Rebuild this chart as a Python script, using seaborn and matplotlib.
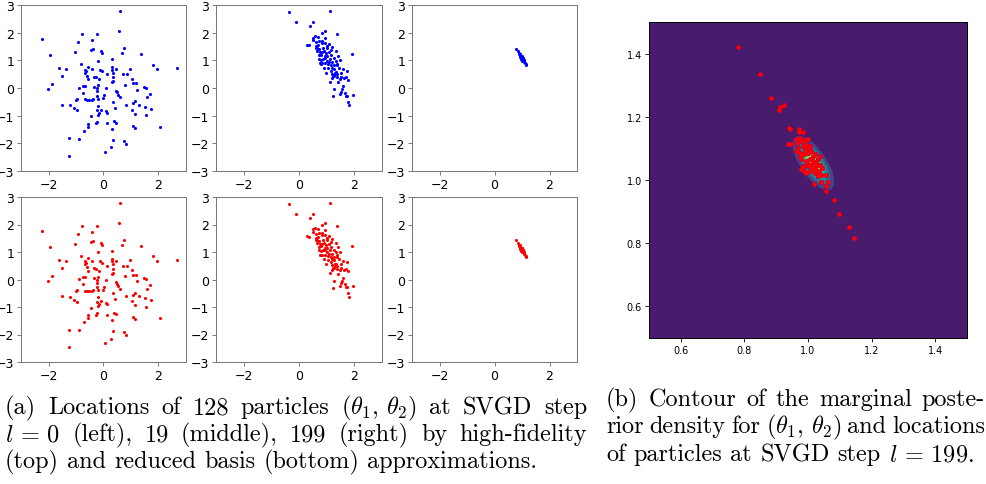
import numpy as np
import pandas as pd
import seaborn as sns
import matplotlib.pyplot as plt

plt.rcParams['mathtext.fontset'] = 'cm'

# particles at SVGD step l = 0 (same initial particles for both models)
x_l0 = [-2.25, 0.61, 0.58, -0.78, -0.22, -0.92, -0.41, -1.93, -1.03, -0.45, -0.39, -0.09, -0.06, 0.75,
        0.69, 1.35, 0.32, -0.19, -0.81, -1.62, -1.35, -0.55, -0.67, -0.63, -0.69, -0.41, -0.12, -0.05,
        0.30, 0.46, 0.30, 0.34, 0.12, 0.72, 0.85, 0.95, 1.81, 1.93, 2.67, -1.50, -0.61, -0.58, -0.34,
        -0.26, 0.33, 0.35, 0.32, 1.03, 1.08, 1.17, -1.87, -2.02, -0.89, -0.73, -0.69, -0.36, -0.19,
        -0.24, -0.23, 0.10, 0.47, 0.50, 0.79, 0.60, 1.22, 1.48, 1.54, 1.69, 1.58, -0.73, -0.97, -0.99,
        -0.67, -0.60, -0.52, -0.43, -0.38, -0.21, -0.24, -0.02, 0.02, 0.36, -1.50, -1.22, -1.07, -0.97,
        -0.19, -0.09, 0.10, 0.13, 0.43, 0.83, 1.07, 1.13, 1.05, 1.13, 1.28, 1.50, 1.74, 1.54, -0.16,
        -0.21, -0.23, -0.45, -0.55, -0.57, -0.72, -0.28, -0.22, 0.13, 0.39, 0.44, 0.32, 1.06, 1.13,
        2.05, -1.26, -0.88, 0.34, 0.73, 0.83, 0.29, 0.06, -1.24, -0.17, 0.52]
y_l0 = [1.77, 2.77, 2.07, 1.94, 1.95, 1.67, 1.73, 1.18, 1.30, 1.37, 1.40, 1.34, 1.27, 1.43,
        1.27, 1.23, 1.05, 0.99, 0.87, 0.72, 0.68, 0.77, 0.66, 0.60, 0.55, 0.67, 0.66, 0.60,
        0.76, 0.67, 0.66, 0.56, 0.49, 0.49, 0.50, 0.70, 0.84, 0.67, 0.72, 0.43, 0.44, 0.32, 0.41,
        0.39, 0.40, 0.24, 0.21, 0.33, 0.17, 0.17, 0.13, -0.05, 0.01, 0.09, 0.09, 0.04, 0.10,
        -0.01, -0.12, -0.01, -0.10, -0.16, 0.12, -0.34, -0.07, 0.04, 0.01, -0.20, -0.33, -0.17, -0.38, -0.43,
        -0.40, -0.43, -0.43, -0.43, -0.38, -0.38, -0.28, -0.37, -0.27, -0.50, -0.60, -0.62, -0.73, -0.80,
        -0.65, -0.79, -0.84, -0.89, -0.71, -0.60, -0.56, -0.48, -0.78, -0.94, -0.60, -0.68, -0.76, -0.99, -0.89,
        -0.96, -0.80, -1.02, -1.29, -1.41, -1.56, -1.28, -1.23, -1.28, -1.20, -1.27, -1.48, -1.38, -1.45,
        -1.40, -1.82, -1.84, -1.88, -1.91, -2.02, -2.15, -2.30, -2.46, 0.32, -0.24]

# particles at SVGD step l = 19
x_l19 = [-0.35, 1.11, -0.12, 0.49, 0.38, 0.94, 0.82, 1.37, 0.49, 0.57, 0.67, 0.29, 0.35, 0.51, 0.61,
         0.73, 0.68, 0.60, 0.84, 0.93, 1.00, 1.03, 1.10, 0.73, 0.77, 0.84, 0.73, 0.64, 0.97, 1.03,
         1.07, 1.32, 1.41, 1.25, 1.16, 0.95, 0.88, 0.81, 0.72, 0.75, 0.84, 0.93, 1.02, 1.09, 1.14,
         1.20, 1.28, 1.39, 1.47, 1.33, 1.06, 0.98, 1.21, 1.27, 1.35, 1.39, 1.50, 1.60, 1.75, 1.61,
         1.70, 1.76, 1.53, 1.21, 1.13, 1.92, 1.27, 1.22, 1.58, 1.54, 1.50, 1.47, 1.66, 1.71, 1.75,
         1.76, 1.80, 1.94, 0.60, 0.88, 0.94, 1.13, 1.20, 1.25, 1.31, 1.24, 1.37, 1.30, 1.15, 1.06,
         0.89, 0.81, 0.66, 0.83, 0.95, 1.20, 1.15, 0.78, 0.89, 1.36, 1.44, 1.47, 1.41]
y_l19 = [2.74, 2.78, 2.40, 2.38, 2.23, 2.05, 2.00, 1.94, 1.82, 1.88, 1.83, 1.57, 1.55, 1.73, 1.67,
         1.70, 1.55, 1.52, 1.61, 1.61, 1.51, 1.43, 1.60, 1.40, 1.30, 1.29, 1.18, 1.33, 1.26, 1.16,
         1.30, 1.34, 1.17, 1.09, 1.18, 1.09, 1.06, 1.02, 1.06, 0.90, 0.89, 0.90, 0.99, 0.94, 0.83,
         0.73, 0.70, 0.88, 1.00, 0.99, 0.72, 0.55, 0.51, 0.43, 0.57, 0.50, 0.55, 0.67, 0.62, 0.35,
         0.38, 0.30, 0.41, 0.35, 0.22, 1.22, -0.05, -0.30, 0.06, -0.04, -0.13, -0.23, -0.18, -0.28, -0.28,
         -0.49, -0.62, -0.24, 1.43, 1.45, 1.16, 1.06, 0.94, 0.82, 0.55, 0.43, 0.40, 0.50, 0.63, 0.87,
         0.73, 0.88, 1.45, 1.70, 1.79, 1.49, 1.37, 1.21, 1.33, 0.82, 0.73, 0.33, 0.21]

# particles at SVGD step l = 199
x_l199 = [0.781, 0.848, 0.885, 0.912, 0.909, 0.926, 0.940, 0.943, 0.938, 0.946, 0.971, 0.971, 0.983,
          0.962, 0.974, 0.989, 1.000, 0.967, 0.984, 0.995, 1.005, 0.974, 0.986, 1.000, 1.011, 1.021,
          0.979, 0.993, 1.005, 1.016, 1.032, 1.037, 0.984, 1.000, 1.014, 1.024, 1.037, 0.995, 1.007,
          1.021, 1.045, 1.042, 1.056, 1.032, 1.063, 1.018, 1.042, 1.056, 1.056, 1.083, 1.099, 1.128,
          1.145, 0.965, 0.977, 1.000, 0.989, 1.016, 1.026, 0.997, 1.009, 0.974, 0.963, 0.979, 1.035,
          1.023, 0.987]
y_l199 = [1.422, 1.336, 1.260, 1.231, 1.221, 1.238, 1.165, 1.162, 1.115, 1.115, 1.160, 1.152, 1.153,
          1.131, 1.134, 1.128, 1.131, 1.102, 1.107, 1.113, 1.107, 1.086, 1.081, 1.086, 1.092, 1.081,
          1.065, 1.060, 1.067, 1.060, 1.065, 1.076, 1.044, 1.044, 1.039, 1.044, 1.049, 1.023, 1.028,
          1.023, 1.039, 1.015, 1.015, 1.013, 0.995, 0.986, 0.993, 0.981, 0.965, 0.936, 0.892, 0.851,
          0.817, 1.118, 1.123, 1.102, 1.095, 1.076, 1.055, 1.055, 1.049, 1.076, 1.092, 1.034, 1.028,
          1.034, 1.028]

# marginal posterior for (theta1, theta2): gaussian approximation
post_mean = [1.017, 1.054]
post_cov = [[0.00107, -0.000979], [-0.000979, 0.00183]]

steps = [(x_l0, y_l0), (x_l19, y_l19), (x_l199, y_l199)]
rows = ['blue', 'red']

fig = plt.figure(figsize=(9.87, 4.85), dpi=100)
W, H = 987, 485


def add_axes_px(x0, y0, x1, y1):
    return fig.add_axes([x0 / W, 1 - y1 / H, (x1 - x0) / W, (y1 - y0) / H])


col_px = [(21, 186), (216, 382), (412, 577)]
row_px = [(6, 172), (198, 363)]

for r, color in enumerate(rows):
    for c, (xs, ys) in enumerate(steps):
        ax = add_axes_px(col_px[c][0], row_px[r][0], col_px[c][1], row_px[r][1])
        df = pd.DataFrame({'t1': xs, 't2': ys})
        sns.scatterplot(data=df, x='t1', y='t2', ax=ax, color=color, s=5, linewidth=0)
        ax.set_xlim(-3, 3)
        ax.set_ylim(-3, 3)
        ax.set_xticks([-2, 0, 2])
        ax.set_yticks([-3, -2, -1, 0, 1, 2, 3])
        ax.set_xlabel('')
        ax.set_ylabel('')
        ax.tick_params(labelsize=9, length=3, width=0.6, color='0.4', pad=2)
        for s in ax.spines.values():
            s.set_color('0.45')
            s.set_linewidth(0.7)

# contour panel
ax = add_axes_px(649, 23, 967, 339)
g = np.linspace(0.5, 1.5, 400)
X, Y = np.meshgrid(g, g)
inv = np.linalg.inv(np.array(post_cov))
dx, dy = X - post_mean[0], Y - post_mean[1]
Z = np.exp(-0.5 * (inv[0, 0] * dx**2 + 2 * inv[0, 1] * dx * dy + inv[1, 1] * dy**2))
ax.contourf(X, Y, Z, cmap='viridis')
df = pd.DataFrame({'t1': x_l199, 't2': y_l199})
sns.scatterplot(data=df, x='t1', y='t2', ax=ax, color='blue', s=12, linewidth=0)
sns.scatterplot(data=df, x='t1', y='t2', ax=ax, color='red', s=12, linewidth=0)
ax.set_xlim(0.5, 1.5)
ax.set_ylim(0.5, 1.5)
ax.set_xticks([0.6, 0.8, 1.0, 1.2, 1.4])
ax.set_yticks([0.6, 0.8, 1.0, 1.2, 1.4])
ax.set_xlabel('')
ax.set_ylabel('')
ax.tick_params(labelsize=7, length=3, width=0.6, pad=2)
for s in ax.spines.values():
    s.set_linewidth(0.7)

# captions, set word by word so lines can be justified like the paper
cap_size = 17.5
cap_font = dict(family='cmr10', size=cap_size)
space_px = 0.333 * cap_size * 100 / 72
renderer = fig.canvas.get_renderer()


def caption_line(words, x0, x1, yc, justify=True):
    objs = [fig.text(0, 1 - yc / H, w, ha='left', va='center', **cap_font) for w in words]
    widths = [o.get_window_extent(renderer).width for o in objs]
    gap = ((x1 - x0) - sum(widths)) / (len(words) - 1) if justify else space_px
    x = x0
    for o, w in zip(objs, widths):
        o.set_x(x / W)
        x += w + gap


th = r'$(\theta_1,\,\theta_2)$'
caption_line(['(a)', 'Locations', 'of', '128', 'particles', th, 'at', 'SVGD', 'step'], 5, 587, 408)
caption_line([r'$l\,=\,0$', '(left),', '19', '(middle),', '199', '(right)', 'by', 'high-fidelity'], 5, 587, 435)
caption_line(['(top)', 'and', 'reduced', 'basis', '(bottom)', 'approximations.'], 5, 587, 462, justify=False)
caption_line(['(b)', 'Contour', 'of', 'the', 'marginal', 'poste-'], 606, 985, 400)
caption_line(['rior', 'density', 'for', th, 'and', 'locations'], 606, 985, 427)
caption_line(['of', 'particles', 'at', 'SVGD', 'step', r'$l\,=\,199.$'], 606, 985, 455, justify=False)

fig.savefig('out.png', dpi=100)
